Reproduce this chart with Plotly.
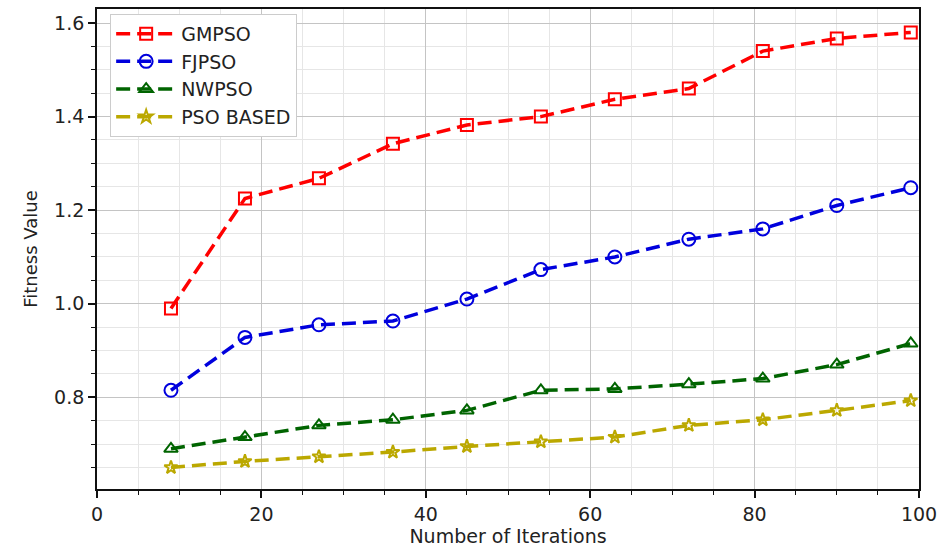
import plotly.graph_objects as go

# Iteration checkpoints
iterations = [9, 18, 27, 36, 45, 54, 63, 72, 81, 90, 99]

# Fitness values per algorithm
gmpso = [0.99, 1.225, 1.268, 1.342, 1.382, 1.400, 1.437, 1.460, 1.540, 1.567, 1.580]
fjpso = [0.815, 0.928, 0.955, 0.963, 1.010, 1.073, 1.100, 1.138, 1.160, 1.210, 1.248]
nwpso = [0.690, 0.715, 0.740, 0.752, 0.772, 0.815, 0.818, 0.828, 0.840, 0.870, 0.915]
pso_based = [0.650, 0.663, 0.673, 0.683, 0.695, 0.705, 0.715, 0.740, 0.752, 0.772, 0.793]

series = [
    ("GMPSO", gmpso, "#ff0000", "square-open", 12),
    ("FJPSO", fjpso, "#0000dd", "circle-open", 13),
    ("NWPSO", nwpso, "#006400", "triangle-up-open", 12),
    ("PSO BASED", pso_based, "#bba800", "star-open", 10),
]

fig = go.Figure()
for name, vals, color, symbol, size in series:
    fig.add_trace(go.Scatter(
        x=iterations, y=vals, name=name, mode="lines+markers",
        line=dict(color=color, width=3.5, dash="14px,7px"),
        marker=dict(symbol=symbol, size=size, color=color,
                    line=dict(color=color, width=2)),
    ))

font_family = "DejaVu Sans, sans-serif"
axis_common = dict(
    showline=True, mirror=True, linecolor="#111111", linewidth=1.8,
    ticks="outside", ticklen=7, tickwidth=1.5, tickcolor="#111111",
    showgrid=True, gridcolor="#c4c4c4", gridwidth=1.2, zeroline=False,
    tickfont=dict(family=font_family, size=19, color="#222222"),
)

fig.update_xaxes(
    range=[0, 100], dtick=20, tick0=0,
    title=dict(text="Number of Iterations", font=dict(family=font_family, size=19, color="#222222"), standoff=4),
    minor=dict(dtick=5, tick0=0, ticks="outside", ticklen=4, tickwidth=1.2, tickcolor="#111111",
               showgrid=True, gridcolor="#e6e6e6", gridwidth=1),
    **axis_common,
)
fig.update_yaxes(
    range=[0.604, 1.63], dtick=0.2, tick0=0.0, tickformat=".1f",
    title=dict(text="Fitness Value", font=dict(family=font_family, size=18, color="#222222"), standoff=12),
    minor=dict(dtick=0.05, tick0=0.0, ticks="outside", ticklen=4, tickwidth=1.2, tickcolor="#111111",
               showgrid=True, gridcolor="#e6e6e6", gridwidth=1),
    **axis_common,
)

fig.update_layout(
    width=944, height=549,
    margin=dict(l=97, r=22, t=7, b=60),
    plot_bgcolor="white", paper_bgcolor="white",
    font=dict(family=font_family, color="#222222"),
    legend=dict(
        x=0.016, y=0.99, xanchor="left", yanchor="top",
        bgcolor="white", bordercolor="#cccccc", borderwidth=1,
        font=dict(family=font_family, size=19, color="#222222"),
        itemwidth=60, tracegroupgap=0,
    ),
    showlegend=True,
)

fig.write_html("out.html")
